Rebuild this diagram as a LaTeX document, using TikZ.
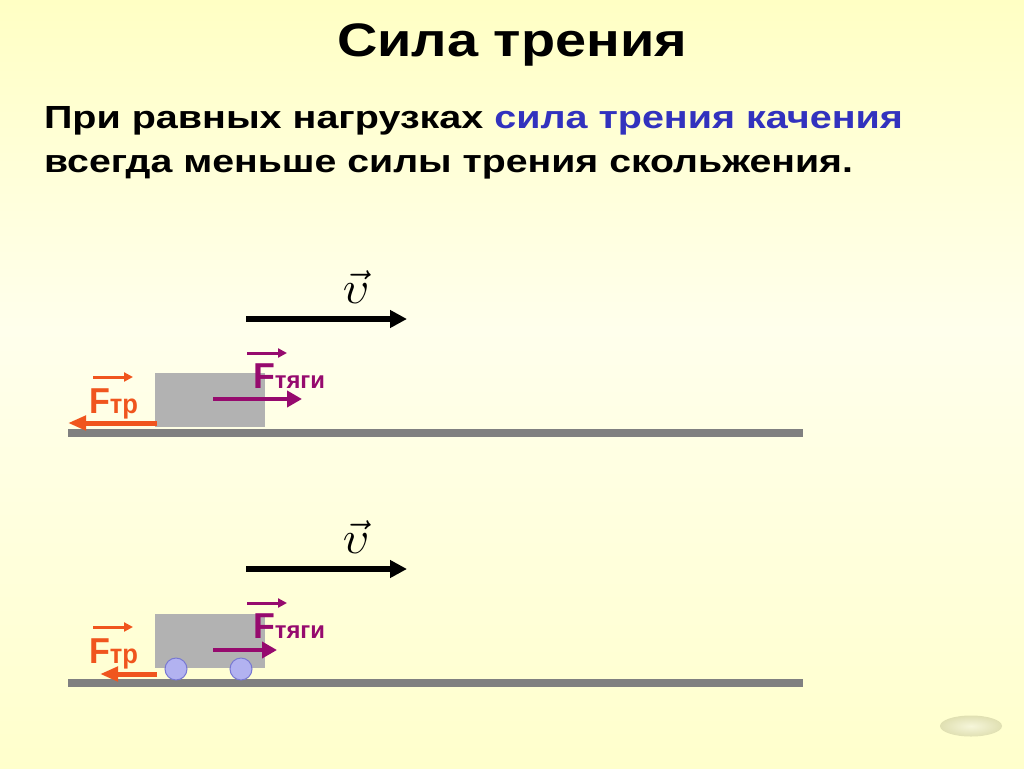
\documentclass[tikz,border=0pt]{standalone}
\usepackage{fontspec}
\setmainfont{Liberation Sans}
\usepackage{graphicx}
\usetikzlibrary{arrows.meta,shapes.geometric,calc}
\definecolor{bgtop}{RGB}{255,255,196}
\definecolor{bgmid}{RGB}{255,255,236}
\definecolor{bgbot}{RGB}{255,255,204}
\definecolor{blk}{RGB}{178,178,178}
\definecolor{grnd}{RGB}{128,128,128}
\definecolor{fric}{RGB}{240,85,30}
\definecolor{pull}{RGB}{150,10,110}
\definecolor{txtblue}{RGB}{50,50,190}
\definecolor{wheelfill}{RGB}{178,178,240}
\definecolor{wheeldraw}{RGB}{120,120,210}
\definecolor{btnin}{RGB}{246,246,218}
\definecolor{btnout}{RGB}{224,224,178}
\newcommand{\squeezeto}[2]{\resizebox{#1}{\height}{#2}}
\begin{document}
\begin{tikzpicture}[x=1pt,y=-1pt,
  every node/.style={inner sep=0pt,outer sep=0pt},
  groundbar/.style={fill=grnd,minimum width=735pt,minimum height=8pt,anchor=north west},
  blockbox/.style={fill=blk,minimum width=110pt,minimum height=54pt,anchor=north west},
  wheel/.style={circle,fill=wheelfill,draw=wheeldraw,line width=1pt,minimum size=22pt},
  fricarrow/.style={draw=fric,line width=5pt,-{Triangle[length=18pt,width=14pt]}},
  pullarrow/.style={draw=pull,line width=4pt,-{Triangle[length=15pt,width=16pt]}},
  varrow/.style={draw=black,line width=5.5pt,-{Triangle[length=17pt,width=17pt]}},
  fricvec/.style={draw=fric,line width=3pt,-{Triangle[length=9pt,width=9pt]}},
  pullvec/.style={draw=pull,line width=3pt,-{Triangle[length=9pt,width=9pt]}},
  ftrlabel/.style={anchor=base west,text=fric,font=\bfseries},
  fpulllabel/.style={anchor=base west,text=pull,font=\bfseries},
  vlabel/.style={anchor=base}
]
\useasboundingbox (0,0) rectangle (1024,768);
\shade[top color=bgtop,bottom color=bgmid] (0,0) rectangle (1024,330);
\shade[top color=bgmid,bottom color=bgbot] (0,330) rectangle (1024,768);

% texts
\node[anchor=base west] (title) at (337,57)
  {\squeezeto{350pt}{\fontsize{47}{56}\selectfont\bfseries Сила трения}};
\node[anchor=base west] (line1) at (44,128)
  {\squeezeto{859pt}{\fontsize{32}{38}\selectfont\bfseries При равных нагрузках \textcolor{txtblue}{сила трения качения}}};
\node[anchor=base west] (line2) at (44,172)
  {\squeezeto{809pt}{\fontsize{32}{38}\selectfont\bfseries всегда меньше силы трения скольжения.}};

% ---------- upper scene: sliding ----------
\node[vlabel] (v1) at (356,303) {\scalebox{4.6}{$\vec{\upsilon}$}};
\coordinate (v1s) at (246,319);
\coordinate (v1e) at (407,319);
\draw[varrow] (v1s) -- (v1e);

\node[groundbar] (ground1) at (68,429) {};
\node[blockbox] (block1) at (155,373) {};
\coordinate (f1s) at (157,423);
\coordinate (f1e) at (68,423);
\draw[fricarrow] (f1s) -- (f1e);
\coordinate (p1s) at (213,399);
\coordinate (p1e) at (302,399);
\draw[pullarrow] (p1s) -- (p1e);

\node[ftrlabel] (ftr1) at (89,413)
  {\squeezeto{49pt}{\fontsize{36}{40}\selectfont F\fontsize{27}{30}\selectfont тр}};
\coordinate (ftr1a) at (93,377);
\coordinate (ftr1b) at (133,377);
\draw[fricvec] (ftr1a) -- (ftr1b);
\node[fpulllabel] (fp1) at (253,388)
  {\squeezeto{72pt}{\fontsize{36}{40}\selectfont F\fontsize{24}{30}\selectfont тяги}};
\coordinate (fp1a) at (247,353);
\coordinate (fp1b) at (287,353);
\draw[pullvec] (fp1a) -- (fp1b);

% ---------- lower scene: rolling ----------
\node[vlabel] (v2) at (356,553) {\scalebox{4.6}{$\vec{\upsilon}$}};
\coordinate (v2s) at (246,569);
\coordinate (v2e) at (407,569);
\draw[varrow] (v2s) -- (v2e);

\node[groundbar] (ground2) at (68,679) {};
\node[blockbox] (block2) at (155,614) {};
\coordinate (f2s) at (157,674);
\coordinate (f2e) at (100,674);
\draw[fricarrow] (f2s) -- (f2e);
\node[wheel] (wheelA) at (176,669) {};
\node[wheel] (wheelB) at (241,669) {};
\coordinate (p2s) at (213,650);
\coordinate (p2e) at (277,650);
\draw[pullarrow] (p2s) -- (p2e);

\node[ftrlabel] (ftr2) at (89,663)
  {\squeezeto{49pt}{\fontsize{36}{40}\selectfont F\fontsize{27}{30}\selectfont тр}};
\coordinate (ftr2a) at (93,627);
\coordinate (ftr2b) at (133,627);
\draw[fricvec] (ftr2a) -- (ftr2b);
\node[fpulllabel] (fp2) at (253,638)
  {\squeezeto{72pt}{\fontsize{36}{40}\selectfont F\fontsize{24}{30}\selectfont тяги}};
\coordinate (fp2a) at (247,603);
\coordinate (fp2b) at (287,603);
\draw[pullvec] (fp2a) -- (fp2b);

% navigation button
\node[ellipse,minimum width=62pt,minimum height=21pt,inner color=btnin,outer color=btnout] (btn) at (971,726) {};
\end{tikzpicture}
\end{document}
